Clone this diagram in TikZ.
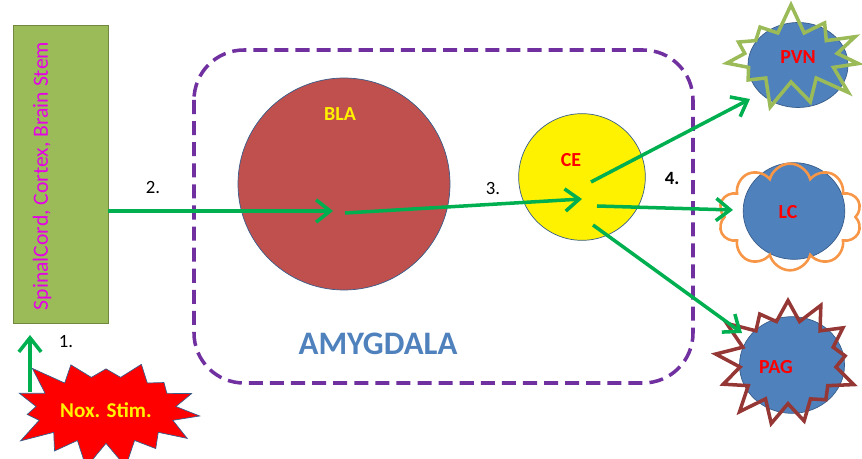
\documentclass[tikz,border=0pt]{standalone}
\usepackage{fontspec}
\setmainfont{Carlito}
\usetikzlibrary{arrows.meta, positioning, shapes.geometric, shapes.symbols}
\definecolor{flowgreen}{RGB}{0,176,80}
\definecolor{boxgreen}{RGB}{155,187,89}
\definecolor{boxedge}{RGB}{113,137,63}
\definecolor{amygpurple}{RGB}{112,48,160}
\definecolor{amygblue}{RGB}{79,129,189}
\definecolor{blared}{RGB}{192,80,77}
\definecolor{nucblue}{RGB}{79,129,189}
\definecolor{nucedge}{RGB}{56,93,138}
\definecolor{lcorange}{RGB}{247,150,70}
\definecolor{pagred}{RGB}{149,55,53}
\definecolor{labelpink}{RGB}{230,0,230}

\tikzset{
  flow/.style={draw=flowgreen, line width=3pt, -{Straight Barb[length=12pt,width=19pt]}},
  nucleus/.style={ellipse, draw=nucedge, fill=nucblue, line width=0.6pt, inner sep=0pt},
  nuclabel/.style={text=red, font=\bfseries\fontsize{17}{19}\selectfont},
  steplabel/.style={font=\fontsize{16}{18}\selectfont},
  outline/.style={line width=3pt, inner sep=0pt},
}

\begin{document}
\begin{tikzpicture}[x=0.03cm, y=-0.03cm]
\useasboundingbox (0,0) rectangle (862,459);

% source box and stimulus
\node[draw=boxedge, fill=boxgreen, line width=0.8pt, minimum width=2.85cm, minimum height=8.94cm] (cortex) at (60.5,174) {};
\node[rotate=90, text=labelpink, font=\fontsize{18.5}{20}\selectfont] at (42,176) {SpinalCord, Cortex, Brain Stem};
\node[starburst, starburst points=15, starburst point height=0.9cm, random starburst=23,
      draw=nucedge, fill=red, line width=0.6pt, minimum width=6cm, minimum height=3.8cm,
      text=yellow, font=\bfseries\fontsize{18}{20}\selectfont] (nox) at (106,410) {Nox. Stim.};
\coordinate (stim top) at (30,392);
\coordinate (cortex in) at (30,335);
\draw[flow] (stim top) -- (cortex in);
\node[steplabel] at (66,342) {1.};

% amygdala
\draw[amygpurple, line width=3pt, dash pattern=on 12pt off 6pt, rounded corners=1.5cm] (194,50) rectangle (693,383);
\node[text=amygblue, font=\bfseries\fontsize{28}{30}\selectfont] (amyg) at (378,344) {AMYGDALA};
\node[circle, draw=nucedge, fill=blared, line width=0.6pt, minimum size=6.36cm] (bla) at (344,184) {};
\node[text=yellow, font=\bfseries\fontsize{17}{19}\selectfont] at (340,114) {BLA};
\node[circle, draw=nucedge, fill=yellow, line width=0.6pt, minimum size=3.8cm] (ce) at (582,177) {};
\node[nuclabel] at (571,160) {CE};

% targets
\node[nucleus, minimum width=3cm, minimum height=2.55cm] (pvn) at (798,65) {};
\node[starburst, starburst points=11, starburst point height=0.9cm, random starburst=7,
      draw=boxgreen, outline, minimum width=4.6cm, minimum height=3.3cm] (pvn burst) at (791,57) {};
\node[nuclabel] at (798,57) {PVN};

\node[nucleus, minimum width=3.05cm, minimum height=2.9cm] (lc) at (794,211) {};
\node[cloud, cloud puffs=10, aspect=1.3, draw=lcorange, line width=2.2pt, inner sep=0pt,
      minimum width=4.3cm, minimum height=3.2cm] (lc cloud) at (790,217) {};
\node[nuclabel] at (788,212) {LC};

\node[nucleus, minimum width=3.15cm, minimum height=2.9cm] (pag) at (792,365) {};
\node[starburst, starburst points=13, starburst point height=0.9cm, random starburst=41,
      draw=pagred, outline, minimum width=4.7cm, minimum height=4.3cm] (pag burst) at (788,362) {};
\node[nuclabel] at (776,367) {PAG};

% pathways
\coordinate (bla in) at (333,211);
\coordinate (bla out) at (345,213);
\coordinate (ce in) at (582,199);
\coordinate (ce out a) at (591,182);
\coordinate (ce out b) at (597,206);
\coordinate (ce out c) at (593,225);
\coordinate (pvn in) at (750,99);
\coordinate (lc in) at (733,210);
\coordinate (pag in) at (742,333);
\draw[flow] (cortex.east |- bla in) -- (bla in);
\draw[flow] (bla out) -- (ce in);
\draw[flow] (ce out a) -- (pvn in);
\draw[flow] (ce out b) -- (lc in);
\draw[flow] (ce out c) -- (pag in);
\node[steplabel] at (153,187) {2.};
\node[steplabel] at (493,188) {3.};
\node[steplabel, font=\bfseries\fontsize{16}{18}\selectfont] at (672,178) {4.};
\end{tikzpicture}
\end{document}
